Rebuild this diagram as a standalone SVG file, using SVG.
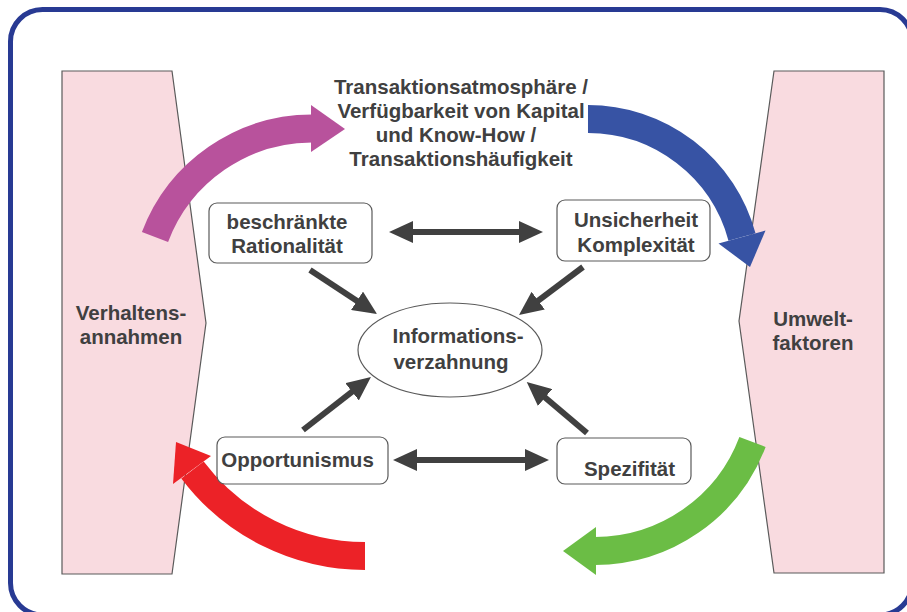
<svg xmlns="http://www.w3.org/2000/svg" width="907" height="612" viewBox="0 0 907 612">
  <style>
    .lbl { font-family: "Liberation Sans", Arial, Helvetica, sans-serif; font-weight: bold; font-size: 20.5px; fill: #404040; text-anchor: middle; }
    .panel { fill: #f9dbe0; stroke: #5a5a5a; stroke-width: 1.2; }
    .box { fill: #ffffff; stroke: #5a5a5a; stroke-width: 1.2; }
    .link { stroke: #404040; stroke-width: 6; fill: none; }
    .flow { fill: none; stroke-width: 28; stroke-linecap: butt; }
  </style>
  <defs>
    <marker id="head" markerUnits="userSpaceOnUse" markerWidth="24" markerHeight="22" viewBox="0 0 24 22" refX="12" refY="11" orient="auto-start-reverse">
      <path d="M0,0 L24,11 L0,22 Z" fill="#404040"/>
    </marker>
  </defs>

  <rect x="0" y="0" width="907" height="612" fill="#ffffff"/>
  <!-- outer frame, running past the right and bottom edges -->
  <rect x="10.5" y="9.5" width="901.5" height="605.5" rx="32" fill="none" stroke="#283a93" stroke-width="5"/>

  <!-- side panels -->
  <g id="verhaltensannahmen">
    <polygon class="panel" points="62,71 172,71 206,323 172,574 62,574"/>
    <text class="lbl" x="131" y="320">Verhaltens-</text>
    <text class="lbl" x="131" y="344">annahmen</text>
  </g>
  <g id="umweltfaktoren">
    <polygon class="panel" points="774,71 884,71 884,573 774,573 739,321"/>
    <text class="lbl" x="813" y="326">Umwelt-</text>
    <text class="lbl" x="813" y="350">faktoren</text>
  </g>

  <!-- large curved flow arrows -->
  <g id="flows">
    <path class="flow" stroke="#b8529c" d="M155,237 A168,168 0 0 1 312,128.5"/>
    <polygon fill="#b8529c" points="311,105 345,129 311,152"/>

    <path class="flow" stroke="#3753a4" d="M588,119 A159.5,159.5 0 0 1 742,237"/>
    <polygon fill="#3753a4" points="765.5,230.5 750,267 718.5,243.5"/>

    <path class="flow" stroke="#6bbd45" d="M752.5,442 A168.3,168.3 0 0 1 595,551"/>
    <polygon fill="#6bbd45" points="596,527 563,551 596,575"/>

    <path class="flow" stroke="#ec2227" d="M365,556 A216,216 0 0 1 192.5,470"/>
    <polygon fill="#ec2227" points="211,456 176,442 173,484"/>
  </g>

  <!-- title text -->
  <g id="rahmenbedingungen">
    <text class="lbl" x="461" y="94">Transaktionsatmosphäre /</text>
    <text class="lbl" x="461" y="118">Verfügbarkeit von Kapital</text>
    <text class="lbl" x="456" y="142">und Know-How /</text>
    <text class="lbl" x="461" y="166">Transaktionshäufigkeit</text>
  </g>

  <!-- connectors -->
  <g id="connectors">
    <line class="link" x1="401" y1="232" x2="531" y2="232" marker-start="url(#head)" marker-end="url(#head)"/>
    <line class="link" x1="405" y1="460" x2="537" y2="460" marker-start="url(#head)" marker-end="url(#head)"/>
    <line class="link" x1="310" y1="270" x2="367" y2="307.4" marker-end="url(#head)"/>
    <line class="link" x1="583" y1="267" x2="528.6" y2="307.8" marker-end="url(#head)"/>
    <line class="link" x1="303" y1="430" x2="361.5" y2="384.4" marker-end="url(#head)"/>
    <line class="link" x1="587" y1="433" x2="535.9" y2="389.8" marker-end="url(#head)"/>
  </g>

  <!-- nodes -->
  <g id="rationalitaet">
    <rect class="box" x="209" y="203" width="163" height="60" rx="8"/>
    <text class="lbl" x="287" y="229">beschränkte</text>
    <text class="lbl" x="287" y="253">Rationalität</text>
  </g>
  <g id="unsicherheit">
    <rect class="box" x="557" y="200" width="153" height="61" rx="8"/>
    <text class="lbl" x="636" y="227">Unsicherheit</text>
    <text class="lbl" x="636" y="252">Komplexität</text>
  </g>
  <g id="informationsverzahnung">
    <ellipse cx="450" cy="350" rx="92" ry="47" fill="#ffffff" stroke="#5a5a5a" stroke-width="1.2"/>
    <text class="lbl" x="458" y="343">Informations-</text>
    <text class="lbl" x="451" y="369">verzahnung</text>
  </g>
  <g id="opportunismus">
    <rect class="box" x="217" y="437" width="171" height="47" rx="8"/>
    <text class="lbl" x="297.5" y="467">Opportunismus</text>
  </g>
  <g id="spezifitaet">
    <rect class="box" x="557" y="438" width="134" height="46" rx="8"/>
    <text class="lbl" x="629.5" y="476">Spezifität</text>
  </g>
</svg>
